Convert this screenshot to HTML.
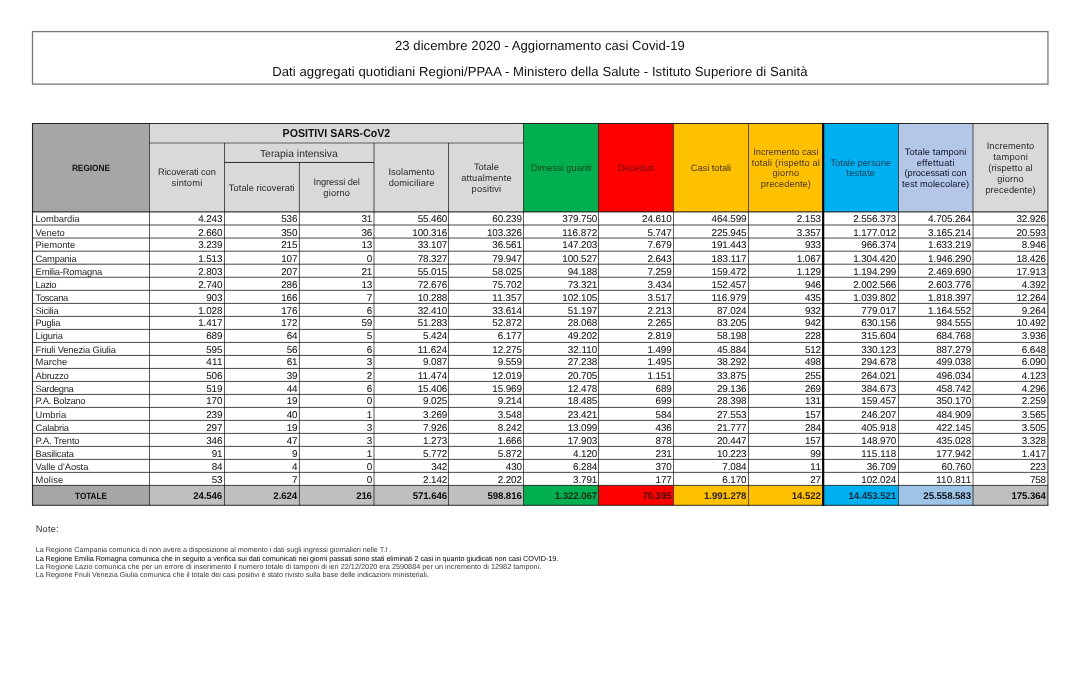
<!DOCTYPE html>
<html lang="it">
<head>
<meta charset="utf-8">
<title>Aggiornamento casi Covid-19 - 23 dicembre 2020</title>
<style>
html,body{margin:0;padding:0;background:#fff;}
body{width:1091px;height:673px;position:relative;overflow:hidden;font-family:"Liberation Sans",sans-serif;}
svg{position:absolute;left:0;top:0;}
.t{position:absolute;white-space:nowrap;text-rendering:geometricPrecision;line-height:16px;}
</style>
</head>
<body>
<svg width="1091" height="673" viewBox="0 0 1091 673">
<rect x="32.5" y="31.6" width="1015.45" height="52.5" fill="#fff" stroke="#777" stroke-width="1.3"/>
<rect x="32.5" y="123.5" width="117" height="88.35" fill="#a6a6a6"/>
<rect x="149.5" y="123.5" width="374" height="88.35" fill="#d9d9d9"/>
<rect x="523.5" y="123.5" width="75" height="88.35" fill="#00b050"/>
<rect x="598.5" y="123.5" width="75" height="88.35" fill="#ff0000"/>
<rect x="673.5" y="123.5" width="75" height="88.35" fill="#ffc000"/>
<rect x="748.5" y="123.5" width="74.67" height="88.35" fill="#ffc000"/>
<rect x="823.17" y="123.5" width="75.33" height="88.35" fill="#00b0f0"/>
<rect x="898.5" y="123.5" width="74.5" height="88.35" fill="#b4c7e7"/>
<rect x="973" y="123.5" width="74.9" height="88.35" fill="#d9d9d9"/>
<rect x="32.5" y="485.4" width="117" height="19.9" fill="#a6a6a6"/>
<rect x="149.5" y="485.4" width="75" height="19.9" fill="#bfbfbf"/>
<rect x="224.5" y="485.4" width="74.9" height="19.9" fill="#bfbfbf"/>
<rect x="299.4" y="485.4" width="74.6" height="19.9" fill="#bfbfbf"/>
<rect x="374" y="485.4" width="74.5" height="19.9" fill="#bfbfbf"/>
<rect x="448.5" y="485.4" width="75" height="19.9" fill="#bfbfbf"/>
<rect x="523.5" y="485.4" width="75" height="19.9" fill="#00b050"/>
<rect x="598.5" y="485.4" width="75" height="19.9" fill="#ff0000"/>
<rect x="673.5" y="485.4" width="75" height="19.9" fill="#ffc000"/>
<rect x="748.5" y="485.4" width="74.67" height="19.9" fill="#ffc000"/>
<rect x="823.17" y="485.4" width="75.33" height="19.9" fill="#00b0f0"/>
<rect x="898.5" y="485.4" width="74.5" height="19.9" fill="#9dc3e6"/>
<rect x="973" y="485.4" width="74.9" height="19.9" fill="#bfbfbf"/>
<line x1="32" y1="123.5" x2="1048.4" y2="123.5" stroke="#000" stroke-opacity="0.82" stroke-width="1"/>
<line x1="149.5" y1="143" x2="523.5" y2="143" stroke="#000" stroke-opacity="0.38" stroke-width="1.4"/>
<line x1="224.5" y1="162.45" x2="374" y2="162.45" stroke="#000" stroke-opacity="0.82" stroke-width="1"/>
<line x1="32.5" y1="225" x2="1047.9" y2="225" stroke="#000" stroke-opacity="0.72" stroke-width="1"/>
<line x1="32.5" y1="238.06" x2="1047.9" y2="238.06" stroke="#000" stroke-opacity="0.72" stroke-width="1"/>
<line x1="32.5" y1="251.2" x2="1047.9" y2="251.2" stroke="#000" stroke-opacity="0.72" stroke-width="1"/>
<line x1="32.5" y1="264.2" x2="1047.9" y2="264.2" stroke="#000" stroke-opacity="0.72" stroke-width="1"/>
<line x1="32.5" y1="277.25" x2="1047.9" y2="277.25" stroke="#000" stroke-opacity="0.72" stroke-width="1"/>
<line x1="32.5" y1="290.3" x2="1047.9" y2="290.3" stroke="#000" stroke-opacity="0.72" stroke-width="1"/>
<line x1="32.5" y1="303.4" x2="1047.9" y2="303.4" stroke="#000" stroke-opacity="0.72" stroke-width="1"/>
<line x1="32.5" y1="316.4" x2="1047.9" y2="316.4" stroke="#000" stroke-opacity="0.72" stroke-width="1"/>
<line x1="32.5" y1="329.4" x2="1047.9" y2="329.4" stroke="#000" stroke-opacity="0.72" stroke-width="1"/>
<line x1="32.5" y1="342.42" x2="1047.9" y2="342.42" stroke="#000" stroke-opacity="0.72" stroke-width="1"/>
<line x1="32.5" y1="355.42" x2="1047.9" y2="355.42" stroke="#000" stroke-opacity="0.72" stroke-width="1"/>
<line x1="32.5" y1="368.42" x2="1047.9" y2="368.42" stroke="#000" stroke-opacity="0.72" stroke-width="1"/>
<line x1="32.5" y1="381.41" x2="1047.9" y2="381.41" stroke="#000" stroke-opacity="0.72" stroke-width="1"/>
<line x1="32.5" y1="394.41" x2="1047.9" y2="394.41" stroke="#000" stroke-opacity="0.72" stroke-width="1"/>
<line x1="32.5" y1="407.41" x2="1047.9" y2="407.41" stroke="#000" stroke-opacity="0.72" stroke-width="1"/>
<line x1="32.5" y1="420.4" x2="1047.9" y2="420.4" stroke="#000" stroke-opacity="0.72" stroke-width="1"/>
<line x1="32.5" y1="433.4" x2="1047.9" y2="433.4" stroke="#000" stroke-opacity="0.72" stroke-width="1"/>
<line x1="32.5" y1="446.4" x2="1047.9" y2="446.4" stroke="#000" stroke-opacity="0.72" stroke-width="1"/>
<line x1="32.5" y1="459.38" x2="1047.9" y2="459.38" stroke="#000" stroke-opacity="0.72" stroke-width="1"/>
<line x1="32.5" y1="472.36" x2="1047.9" y2="472.36" stroke="#000" stroke-opacity="0.72" stroke-width="1"/>
<line x1="32.5" y1="485.4" x2="1047.9" y2="485.4" stroke="#000" stroke-opacity="0.72" stroke-width="1"/>
<line x1="32.5" y1="211.85" x2="1047.9" y2="211.85" stroke="#000" stroke-opacity="0.75" stroke-width="1.2"/>
<line x1="32" y1="505.3" x2="1048.4" y2="505.3" stroke="#000" stroke-opacity="0.82" stroke-width="1"/>
<line x1="32.5" y1="123.5" x2="32.5" y2="505.3" stroke="#000" stroke-opacity="0.82" stroke-width="1.1"/>
<line x1="149.5" y1="123.5" x2="149.5" y2="505.3" stroke="#000" stroke-opacity="0.64" stroke-width="1"/>
<line x1="224.5" y1="143" x2="224.5" y2="505.3" stroke="#000" stroke-opacity="0.64" stroke-width="1"/>
<line x1="299.4" y1="162.45" x2="299.4" y2="505.3" stroke="#000" stroke-opacity="0.64" stroke-width="1"/>
<line x1="374" y1="143" x2="374" y2="505.3" stroke="#000" stroke-opacity="0.64" stroke-width="1"/>
<line x1="448.5" y1="143" x2="448.5" y2="505.3" stroke="#000" stroke-opacity="0.64" stroke-width="1"/>
<line x1="523.5" y1="123.5" x2="523.5" y2="505.3" stroke="#000" stroke-opacity="0.64" stroke-width="1"/>
<line x1="598.5" y1="123.5" x2="598.5" y2="505.3" stroke="#000" stroke-opacity="0.64" stroke-width="1"/>
<line x1="673.5" y1="123.5" x2="673.5" y2="505.3" stroke="#000" stroke-opacity="0.64" stroke-width="1"/>
<line x1="748.5" y1="123.5" x2="748.5" y2="505.3" stroke="#000" stroke-opacity="0.64" stroke-width="1"/>
<line x1="898.5" y1="123.5" x2="898.5" y2="505.3" stroke="#000" stroke-opacity="0.64" stroke-width="1"/>
<line x1="973" y1="123.5" x2="973" y2="505.3" stroke="#000" stroke-opacity="0.64" stroke-width="1"/>
<line x1="1047.9" y1="123.5" x2="1047.9" y2="505.3" stroke="#000" stroke-opacity="0.6" stroke-width="1.4"/>
<line x1="823.17" y1="123" x2="823.17" y2="505.8" stroke="#000" stroke-opacity="1" stroke-width="2.2"/>
</svg>
<div class="t" style="left:394.96px;top:38px;font-size:13.1px;letter-spacing:0.054px;color:#111;">23 dicembre 2020 - Aggiornamento casi Covid-19</div>
<div class="t" style="left:272.15px;top:64px;font-size:13.1px;letter-spacing:0.078px;color:#111;">Dati aggregati quotidiani Regioni/PPAA - Ministero della Salute - Istituto Superiore di Sanità</div>
<div class="t" style="left:71.90px;top:161px;font-size:8.28px;letter-spacing:0.002px;color:#111;font-weight:bold;transform:scaleY(1.079);transform-origin:0 10px;">REGIONE</div>
<div class="t" style="left:282.60px;top:126px;font-size:10.58px;letter-spacing:0.001px;color:#111;font-weight:bold;transform:scaleY(1.089);transform-origin:0 11px;">POSITIVI SARS-CoV2</div>
<div class="t" style="left:259.95px;top:147px;font-size:10.34px;letter-spacing:0.019px;color:#2a2a2a;">Terapia intensiva</div>
<div class="t" style="left:158.02px;top:164px;font-size:9.29px;letter-spacing:-0.079px;color:#2a2a2a;">Ricoverati con</div>
<div class="t" style="left:171.62px;top:175px;font-size:9.29px;letter-spacing:0.200px;color:#2a2a2a;">sintomi</div>
<div class="t" style="left:228.86px;top:180px;font-size:9.29px;letter-spacing:0.051px;color:#2a2a2a;">Totale ricoverati</div>
<div class="t" style="left:313.47px;top:174px;font-size:9.29px;letter-spacing:-0.101px;color:#2a2a2a;">Ingressi del</div>
<div class="t" style="left:323.33px;top:185px;font-size:9.29px;letter-spacing:0.172px;color:#2a2a2a;">giorno</div>
<div class="t" style="left:388.47px;top:164px;font-size:9.29px;letter-spacing:0.075px;color:#2a2a2a;">Isolamento</div>
<div class="t" style="left:388.67px;top:175px;font-size:9.29px;letter-spacing:0.132px;color:#2a2a2a;">domiciliare</div>
<div class="t" style="left:473.94px;top:159px;font-size:9.29px;letter-spacing:0.025px;color:#2a2a2a;">Totale</div>
<div class="t" style="left:461.17px;top:170px;font-size:9.29px;letter-spacing:0.192px;color:#2a2a2a;">attualmente</div>
<div class="t" style="left:471.62px;top:181px;font-size:9.29px;letter-spacing:0.165px;color:#2a2a2a;">positivi</div>
<div class="t" style="left:530.87px;top:160px;font-size:9.29px;letter-spacing:-0.009px;color:#063f1c;">Dimessi guariti</div>
<div class="t" style="left:617.66px;top:160px;font-size:9.29px;letter-spacing:0.042px;color:#700000;">Deceduti</div>
<div class="t" style="left:690.84px;top:160px;font-size:9.29px;letter-spacing:-0.047px;color:#463500;">Casi totali</div>
<div class="t" style="left:753.19px;top:144px;font-size:9.29px;letter-spacing:-0.016px;color:#463500;">Incremento casi</div>
<div class="t" style="left:751.79px;top:155px;font-size:9.29px;letter-spacing:0.144px;color:#463500;">totali (rispetto al</div>
<div class="t" style="left:772.53px;top:165px;font-size:9.29px;letter-spacing:0.172px;color:#463500;">giorno</div>
<div class="t" style="left:760.78px;top:176px;font-size:9.29px;letter-spacing:0.059px;color:#463500;">precedente)</div>
<div class="t" style="left:830.40px;top:155px;font-size:9.29px;letter-spacing:-0.022px;color:#053d57;">Totale persone</div>
<div class="t" style="left:846.45px;top:165px;font-size:9.29px;letter-spacing:0.116px;color:#053d57;">testate</div>
<div class="t" style="left:904.70px;top:144px;font-size:9.29px;letter-spacing:0.106px;color:#10142a;">Totale tamponi</div>
<div class="t" style="left:916.69px;top:155px;font-size:9.29px;letter-spacing:0.261px;color:#10142a;">effettuati</div>
<div class="t" style="left:904.59px;top:165px;font-size:9.29px;letter-spacing:-0.069px;color:#10142a;">(processati con</div>
<div class="t" style="left:902.09px;top:176px;font-size:9.29px;letter-spacing:0.062px;color:#10142a;">test molecolare)</div>
<div class="t" style="left:986.63px;top:138px;font-size:9.29px;letter-spacing:0.135px;color:#2a2a2a;">Incremento</div>
<div class="t" style="left:993.17px;top:149px;font-size:9.29px;letter-spacing:0.257px;color:#2a2a2a;">tamponi</div>
<div class="t" style="left:988.26px;top:160px;font-size:9.29px;letter-spacing:0.096px;color:#2a2a2a;">(rispetto al</div>
<div class="t" style="left:997.13px;top:171px;font-size:9.29px;letter-spacing:0.172px;color:#2a2a2a;">giorno</div>
<div class="t" style="left:985.38px;top:182px;font-size:9.29px;letter-spacing:0.059px;color:#2a2a2a;">precedente)</div>
<div class="t" style="left:35.60px;top:211px;font-size:9.39px;letter-spacing:-0.065px;color:#262626;">Lombardia</div>
<div class="t" style="left:198.19px;top:212px;font-size:9.9px;letter-spacing:-0.124px;color:#151515;-webkit-text-stroke:0.05px #151515;">4.243</div>
<div class="t" style="left:281.24px;top:212px;font-size:9.9px;letter-spacing:-0.162px;color:#151515;-webkit-text-stroke:0.05px #151515;">536</div>
<div class="t" style="left:361.41px;top:212px;font-size:9.9px;letter-spacing:-0.217px;color:#151515;-webkit-text-stroke:0.05px #151515;">31</div>
<div class="t" style="left:417.69px;top:212px;font-size:9.9px;letter-spacing:-0.121px;color:#151515;-webkit-text-stroke:0.05px #151515;">55.460</div>
<div class="t" style="left:492.36px;top:212px;font-size:9.9px;letter-spacing:-0.121px;color:#151515;-webkit-text-stroke:0.05px #151515;">60.239</div>
<div class="t" style="left:562.33px;top:212px;font-size:9.9px;letter-spacing:-0.119px;color:#151515;-webkit-text-stroke:0.05px #151515;">379.750</div>
<div class="t" style="left:642.09px;top:212px;font-size:9.9px;letter-spacing:-0.121px;color:#151515;-webkit-text-stroke:0.05px #151515;">24.610</div>
<div class="t" style="left:711.56px;top:212px;font-size:9.9px;letter-spacing:-0.119px;color:#151515;-webkit-text-stroke:0.05px #151515;">464.599</div>
<div class="t" style="left:796.82px;top:212px;font-size:9.9px;letter-spacing:-0.124px;color:#151515;-webkit-text-stroke:0.05px #151515;">2.153</div>
<div class="t" style="left:853.21px;top:212px;font-size:9.9px;letter-spacing:-0.110px;color:#151515;-webkit-text-stroke:0.05px #151515;">2.556.373</div>
<div class="t" style="left:928.12px;top:212px;font-size:9.9px;letter-spacing:-0.110px;color:#151515;-webkit-text-stroke:0.05px #151515;">4.705.264</div>
<div class="t" style="left:1016.43px;top:212px;font-size:9.9px;letter-spacing:-0.121px;color:#151515;-webkit-text-stroke:0.05px #151515;">32.926</div>
<div class="t" style="left:35.60px;top:225px;font-size:9.39px;letter-spacing:0.008px;color:#262626;">Veneto</div>
<div class="t" style="left:198.19px;top:226px;font-size:9.9px;letter-spacing:-0.124px;color:#151515;-webkit-text-stroke:0.05px #151515;">2.660</div>
<div class="t" style="left:281.24px;top:226px;font-size:9.9px;letter-spacing:-0.162px;color:#151515;-webkit-text-stroke:0.05px #151515;">350</div>
<div class="t" style="left:361.41px;top:226px;font-size:9.9px;letter-spacing:-0.217px;color:#151515;-webkit-text-stroke:0.05px #151515;">36</div>
<div class="t" style="left:412.29px;top:226px;font-size:9.9px;letter-spacing:-0.119px;color:#151515;-webkit-text-stroke:0.05px #151515;">100.316</div>
<div class="t" style="left:486.96px;top:226px;font-size:9.9px;letter-spacing:-0.119px;color:#151515;-webkit-text-stroke:0.05px #151515;">103.326</div>
<div class="t" style="left:562.33px;top:226px;font-size:9.9px;letter-spacing:0.004px;color:#151515;-webkit-text-stroke:0.05px #151515;">116.872</div>
<div class="t" style="left:647.49px;top:226px;font-size:9.9px;letter-spacing:-0.124px;color:#151515;-webkit-text-stroke:0.05px #151515;">5.747</div>
<div class="t" style="left:711.56px;top:226px;font-size:9.9px;letter-spacing:-0.119px;color:#151515;-webkit-text-stroke:0.05px #151515;">225.945</div>
<div class="t" style="left:796.82px;top:226px;font-size:9.9px;letter-spacing:-0.124px;color:#151515;-webkit-text-stroke:0.05px #151515;">3.357</div>
<div class="t" style="left:853.21px;top:226px;font-size:9.9px;letter-spacing:-0.110px;color:#151515;-webkit-text-stroke:0.05px #151515;">1.177.012</div>
<div class="t" style="left:928.12px;top:226px;font-size:9.9px;letter-spacing:-0.110px;color:#151515;-webkit-text-stroke:0.05px #151515;">3.165.214</div>
<div class="t" style="left:1016.43px;top:226px;font-size:9.9px;letter-spacing:-0.121px;color:#151515;-webkit-text-stroke:0.05px #151515;">20.593</div>
<div class="t" style="left:35.60px;top:237px;font-size:9.39px;letter-spacing:-0.001px;color:#262626;">Piemonte</div>
<div class="t" style="left:198.19px;top:238px;font-size:9.9px;letter-spacing:-0.124px;color:#151515;-webkit-text-stroke:0.05px #151515;">3.239</div>
<div class="t" style="left:281.24px;top:238px;font-size:9.9px;letter-spacing:-0.162px;color:#151515;-webkit-text-stroke:0.05px #151515;">215</div>
<div class="t" style="left:361.41px;top:238px;font-size:9.9px;letter-spacing:-0.217px;color:#151515;-webkit-text-stroke:0.05px #151515;">13</div>
<div class="t" style="left:417.69px;top:238px;font-size:9.9px;letter-spacing:-0.121px;color:#151515;-webkit-text-stroke:0.05px #151515;">33.107</div>
<div class="t" style="left:492.36px;top:238px;font-size:9.9px;letter-spacing:-0.121px;color:#151515;-webkit-text-stroke:0.05px #151515;">36.561</div>
<div class="t" style="left:562.33px;top:238px;font-size:9.9px;letter-spacing:-0.119px;color:#151515;-webkit-text-stroke:0.05px #151515;">147.203</div>
<div class="t" style="left:647.49px;top:238px;font-size:9.9px;letter-spacing:-0.124px;color:#151515;-webkit-text-stroke:0.05px #151515;">7.679</div>
<div class="t" style="left:711.56px;top:238px;font-size:9.9px;letter-spacing:-0.119px;color:#151515;-webkit-text-stroke:0.05px #151515;">191.443</div>
<div class="t" style="left:804.91px;top:238px;font-size:9.9px;letter-spacing:-0.162px;color:#151515;-webkit-text-stroke:0.05px #151515;">933</div>
<div class="t" style="left:861.29px;top:238px;font-size:9.9px;letter-spacing:-0.119px;color:#151515;-webkit-text-stroke:0.05px #151515;">966.374</div>
<div class="t" style="left:928.12px;top:238px;font-size:9.9px;letter-spacing:-0.110px;color:#151515;-webkit-text-stroke:0.05px #151515;">1.633.219</div>
<div class="t" style="left:1021.82px;top:238px;font-size:9.9px;letter-spacing:-0.124px;color:#151515;-webkit-text-stroke:0.05px #151515;">8.946</div>
<div class="t" style="left:35.60px;top:251px;font-size:9.39px;letter-spacing:-0.243px;color:#262626;">Campania</div>
<div class="t" style="left:198.19px;top:252px;font-size:9.9px;letter-spacing:-0.124px;color:#151515;-webkit-text-stroke:0.05px #151515;">1.513</div>
<div class="t" style="left:281.24px;top:252px;font-size:9.9px;letter-spacing:-0.162px;color:#151515;-webkit-text-stroke:0.05px #151515;">107</div>
<div class="t" style="left:366.80px;top:252px;font-size:9.9px;letter-spacing:0.000px;color:#151515;-webkit-text-stroke:0.05px #151515;">0</div>
<div class="t" style="left:417.69px;top:252px;font-size:9.9px;letter-spacing:-0.121px;color:#151515;-webkit-text-stroke:0.05px #151515;">78.327</div>
<div class="t" style="left:492.36px;top:252px;font-size:9.9px;letter-spacing:-0.121px;color:#151515;-webkit-text-stroke:0.05px #151515;">79.947</div>
<div class="t" style="left:562.33px;top:252px;font-size:9.9px;letter-spacing:-0.119px;color:#151515;-webkit-text-stroke:0.05px #151515;">100.527</div>
<div class="t" style="left:647.49px;top:252px;font-size:9.9px;letter-spacing:-0.124px;color:#151515;-webkit-text-stroke:0.05px #151515;">2.643</div>
<div class="t" style="left:711.56px;top:252px;font-size:9.9px;letter-spacing:0.004px;color:#151515;-webkit-text-stroke:0.05px #151515;">183.117</div>
<div class="t" style="left:796.82px;top:252px;font-size:9.9px;letter-spacing:-0.124px;color:#151515;-webkit-text-stroke:0.05px #151515;">1.067</div>
<div class="t" style="left:853.21px;top:252px;font-size:9.9px;letter-spacing:-0.110px;color:#151515;-webkit-text-stroke:0.05px #151515;">1.304.420</div>
<div class="t" style="left:928.12px;top:252px;font-size:9.9px;letter-spacing:-0.110px;color:#151515;-webkit-text-stroke:0.05px #151515;">1.946.290</div>
<div class="t" style="left:1016.43px;top:252px;font-size:9.9px;letter-spacing:-0.121px;color:#151515;-webkit-text-stroke:0.05px #151515;">18.426</div>
<div class="t" style="left:35.60px;top:264px;font-size:9.39px;letter-spacing:-0.215px;color:#262626;">Emilia-Romagna</div>
<div class="t" style="left:198.19px;top:265px;font-size:9.9px;letter-spacing:-0.124px;color:#151515;-webkit-text-stroke:0.05px #151515;">2.803</div>
<div class="t" style="left:281.24px;top:265px;font-size:9.9px;letter-spacing:-0.162px;color:#151515;-webkit-text-stroke:0.05px #151515;">207</div>
<div class="t" style="left:361.41px;top:265px;font-size:9.9px;letter-spacing:-0.217px;color:#151515;-webkit-text-stroke:0.05px #151515;">21</div>
<div class="t" style="left:417.69px;top:265px;font-size:9.9px;letter-spacing:-0.121px;color:#151515;-webkit-text-stroke:0.05px #151515;">55.015</div>
<div class="t" style="left:492.36px;top:265px;font-size:9.9px;letter-spacing:-0.121px;color:#151515;-webkit-text-stroke:0.05px #151515;">58.025</div>
<div class="t" style="left:567.72px;top:265px;font-size:9.9px;letter-spacing:-0.121px;color:#151515;-webkit-text-stroke:0.05px #151515;">94.188</div>
<div class="t" style="left:647.49px;top:265px;font-size:9.9px;letter-spacing:-0.124px;color:#151515;-webkit-text-stroke:0.05px #151515;">7.259</div>
<div class="t" style="left:711.56px;top:265px;font-size:9.9px;letter-spacing:-0.119px;color:#151515;-webkit-text-stroke:0.05px #151515;">159.472</div>
<div class="t" style="left:796.82px;top:265px;font-size:9.9px;letter-spacing:-0.124px;color:#151515;-webkit-text-stroke:0.05px #151515;">1.129</div>
<div class="t" style="left:853.21px;top:265px;font-size:9.9px;letter-spacing:-0.110px;color:#151515;-webkit-text-stroke:0.05px #151515;">1.194.299</div>
<div class="t" style="left:928.12px;top:265px;font-size:9.9px;letter-spacing:-0.110px;color:#151515;-webkit-text-stroke:0.05px #151515;">2.469.690</div>
<div class="t" style="left:1016.43px;top:265px;font-size:9.9px;letter-spacing:-0.121px;color:#151515;-webkit-text-stroke:0.05px #151515;">17.913</div>
<div class="t" style="left:35.60px;top:277px;font-size:9.39px;letter-spacing:-0.407px;color:#262626;">Lazio</div>
<div class="t" style="left:198.19px;top:278px;font-size:9.9px;letter-spacing:-0.124px;color:#151515;-webkit-text-stroke:0.05px #151515;">2.740</div>
<div class="t" style="left:281.24px;top:278px;font-size:9.9px;letter-spacing:-0.162px;color:#151515;-webkit-text-stroke:0.05px #151515;">286</div>
<div class="t" style="left:361.41px;top:278px;font-size:9.9px;letter-spacing:-0.217px;color:#151515;-webkit-text-stroke:0.05px #151515;">13</div>
<div class="t" style="left:417.69px;top:278px;font-size:9.9px;letter-spacing:-0.121px;color:#151515;-webkit-text-stroke:0.05px #151515;">72.676</div>
<div class="t" style="left:492.36px;top:278px;font-size:9.9px;letter-spacing:-0.121px;color:#151515;-webkit-text-stroke:0.05px #151515;">75.702</div>
<div class="t" style="left:567.72px;top:278px;font-size:9.9px;letter-spacing:-0.121px;color:#151515;-webkit-text-stroke:0.05px #151515;">73.321</div>
<div class="t" style="left:647.49px;top:278px;font-size:9.9px;letter-spacing:-0.124px;color:#151515;-webkit-text-stroke:0.05px #151515;">3.434</div>
<div class="t" style="left:711.56px;top:278px;font-size:9.9px;letter-spacing:-0.119px;color:#151515;-webkit-text-stroke:0.05px #151515;">152.457</div>
<div class="t" style="left:804.91px;top:278px;font-size:9.9px;letter-spacing:-0.162px;color:#151515;-webkit-text-stroke:0.05px #151515;">946</div>
<div class="t" style="left:853.21px;top:278px;font-size:9.9px;letter-spacing:-0.110px;color:#151515;-webkit-text-stroke:0.05px #151515;">2.002.566</div>
<div class="t" style="left:928.12px;top:278px;font-size:9.9px;letter-spacing:-0.110px;color:#151515;-webkit-text-stroke:0.05px #151515;">2.603.776</div>
<div class="t" style="left:1021.82px;top:278px;font-size:9.9px;letter-spacing:-0.124px;color:#151515;-webkit-text-stroke:0.05px #151515;">4.392</div>
<div class="t" style="left:35.60px;top:290px;font-size:9.39px;letter-spacing:-0.391px;color:#262626;">Toscana</div>
<div class="t" style="left:206.27px;top:291px;font-size:9.9px;letter-spacing:-0.162px;color:#151515;-webkit-text-stroke:0.05px #151515;">903</div>
<div class="t" style="left:281.24px;top:291px;font-size:9.9px;letter-spacing:-0.162px;color:#151515;-webkit-text-stroke:0.05px #151515;">166</div>
<div class="t" style="left:366.80px;top:291px;font-size:9.9px;letter-spacing:0.000px;color:#151515;-webkit-text-stroke:0.05px #151515;">7</div>
<div class="t" style="left:417.69px;top:291px;font-size:9.9px;letter-spacing:-0.121px;color:#151515;-webkit-text-stroke:0.05px #151515;">10.288</div>
<div class="t" style="left:492.36px;top:291px;font-size:9.9px;letter-spacing:0.026px;color:#151515;-webkit-text-stroke:0.05px #151515;">11.357</div>
<div class="t" style="left:562.33px;top:291px;font-size:9.9px;letter-spacing:-0.119px;color:#151515;-webkit-text-stroke:0.05px #151515;">102.105</div>
<div class="t" style="left:647.49px;top:291px;font-size:9.9px;letter-spacing:-0.124px;color:#151515;-webkit-text-stroke:0.05px #151515;">3.517</div>
<div class="t" style="left:711.56px;top:291px;font-size:9.9px;letter-spacing:0.004px;color:#151515;-webkit-text-stroke:0.05px #151515;">116.979</div>
<div class="t" style="left:804.91px;top:291px;font-size:9.9px;letter-spacing:-0.162px;color:#151515;-webkit-text-stroke:0.05px #151515;">435</div>
<div class="t" style="left:853.21px;top:291px;font-size:9.9px;letter-spacing:-0.110px;color:#151515;-webkit-text-stroke:0.05px #151515;">1.039.802</div>
<div class="t" style="left:928.12px;top:291px;font-size:9.9px;letter-spacing:-0.110px;color:#151515;-webkit-text-stroke:0.05px #151515;">1.818.397</div>
<div class="t" style="left:1016.43px;top:291px;font-size:9.9px;letter-spacing:-0.121px;color:#151515;-webkit-text-stroke:0.05px #151515;">12.264</div>
<div class="t" style="left:35.60px;top:303px;font-size:9.39px;letter-spacing:-0.232px;color:#262626;">Sicilia</div>
<div class="t" style="left:198.19px;top:304px;font-size:9.9px;letter-spacing:-0.124px;color:#151515;-webkit-text-stroke:0.05px #151515;">1.028</div>
<div class="t" style="left:281.24px;top:304px;font-size:9.9px;letter-spacing:-0.162px;color:#151515;-webkit-text-stroke:0.05px #151515;">176</div>
<div class="t" style="left:366.80px;top:304px;font-size:9.9px;letter-spacing:0.000px;color:#151515;-webkit-text-stroke:0.05px #151515;">6</div>
<div class="t" style="left:417.69px;top:304px;font-size:9.9px;letter-spacing:-0.121px;color:#151515;-webkit-text-stroke:0.05px #151515;">32.410</div>
<div class="t" style="left:492.36px;top:304px;font-size:9.9px;letter-spacing:-0.121px;color:#151515;-webkit-text-stroke:0.05px #151515;">33.614</div>
<div class="t" style="left:567.72px;top:304px;font-size:9.9px;letter-spacing:-0.121px;color:#151515;-webkit-text-stroke:0.05px #151515;">51.197</div>
<div class="t" style="left:647.49px;top:304px;font-size:9.9px;letter-spacing:-0.124px;color:#151515;-webkit-text-stroke:0.05px #151515;">2.213</div>
<div class="t" style="left:716.96px;top:304px;font-size:9.9px;letter-spacing:-0.121px;color:#151515;-webkit-text-stroke:0.05px #151515;">87.024</div>
<div class="t" style="left:804.91px;top:304px;font-size:9.9px;letter-spacing:-0.162px;color:#151515;-webkit-text-stroke:0.05px #151515;">932</div>
<div class="t" style="left:861.29px;top:304px;font-size:9.9px;letter-spacing:-0.119px;color:#151515;-webkit-text-stroke:0.05px #151515;">779.017</div>
<div class="t" style="left:928.12px;top:304px;font-size:9.9px;letter-spacing:-0.110px;color:#151515;-webkit-text-stroke:0.05px #151515;">1.164.552</div>
<div class="t" style="left:1021.82px;top:304px;font-size:9.9px;letter-spacing:-0.124px;color:#151515;-webkit-text-stroke:0.05px #151515;">9.264</div>
<div class="t" style="left:35.60px;top:315px;font-size:9.39px;letter-spacing:-0.246px;color:#262626;">Puglia</div>
<div class="t" style="left:198.19px;top:316px;font-size:9.9px;letter-spacing:-0.124px;color:#151515;-webkit-text-stroke:0.05px #151515;">1.417</div>
<div class="t" style="left:281.24px;top:316px;font-size:9.9px;letter-spacing:-0.162px;color:#151515;-webkit-text-stroke:0.05px #151515;">172</div>
<div class="t" style="left:361.41px;top:316px;font-size:9.9px;letter-spacing:-0.217px;color:#151515;-webkit-text-stroke:0.05px #151515;">59</div>
<div class="t" style="left:417.69px;top:316px;font-size:9.9px;letter-spacing:-0.121px;color:#151515;-webkit-text-stroke:0.05px #151515;">51.283</div>
<div class="t" style="left:492.36px;top:316px;font-size:9.9px;letter-spacing:-0.121px;color:#151515;-webkit-text-stroke:0.05px #151515;">52.872</div>
<div class="t" style="left:567.72px;top:316px;font-size:9.9px;letter-spacing:-0.121px;color:#151515;-webkit-text-stroke:0.05px #151515;">28.068</div>
<div class="t" style="left:647.49px;top:316px;font-size:9.9px;letter-spacing:-0.124px;color:#151515;-webkit-text-stroke:0.05px #151515;">2.265</div>
<div class="t" style="left:716.96px;top:316px;font-size:9.9px;letter-spacing:-0.121px;color:#151515;-webkit-text-stroke:0.05px #151515;">83.205</div>
<div class="t" style="left:804.91px;top:316px;font-size:9.9px;letter-spacing:-0.162px;color:#151515;-webkit-text-stroke:0.05px #151515;">942</div>
<div class="t" style="left:861.29px;top:316px;font-size:9.9px;letter-spacing:-0.119px;color:#151515;-webkit-text-stroke:0.05px #151515;">630.156</div>
<div class="t" style="left:936.21px;top:316px;font-size:9.9px;letter-spacing:-0.119px;color:#151515;-webkit-text-stroke:0.05px #151515;">984.555</div>
<div class="t" style="left:1016.43px;top:316px;font-size:9.9px;letter-spacing:-0.121px;color:#151515;-webkit-text-stroke:0.05px #151515;">10.492</div>
<div class="t" style="left:35.60px;top:328px;font-size:9.39px;letter-spacing:-0.125px;color:#262626;">Liguria</div>
<div class="t" style="left:206.27px;top:329px;font-size:9.9px;letter-spacing:-0.162px;color:#151515;-webkit-text-stroke:0.05px #151515;">689</div>
<div class="t" style="left:286.64px;top:329px;font-size:9.9px;letter-spacing:-0.217px;color:#151515;-webkit-text-stroke:0.05px #151515;">64</div>
<div class="t" style="left:366.80px;top:329px;font-size:9.9px;letter-spacing:0.000px;color:#151515;-webkit-text-stroke:0.05px #151515;">5</div>
<div class="t" style="left:423.09px;top:329px;font-size:9.9px;letter-spacing:-0.124px;color:#151515;-webkit-text-stroke:0.05px #151515;">5.424</div>
<div class="t" style="left:497.76px;top:329px;font-size:9.9px;letter-spacing:-0.124px;color:#151515;-webkit-text-stroke:0.05px #151515;">6.177</div>
<div class="t" style="left:567.72px;top:329px;font-size:9.9px;letter-spacing:-0.121px;color:#151515;-webkit-text-stroke:0.05px #151515;">49.202</div>
<div class="t" style="left:647.49px;top:329px;font-size:9.9px;letter-spacing:-0.124px;color:#151515;-webkit-text-stroke:0.05px #151515;">2.819</div>
<div class="t" style="left:716.96px;top:329px;font-size:9.9px;letter-spacing:-0.121px;color:#151515;-webkit-text-stroke:0.05px #151515;">58.198</div>
<div class="t" style="left:804.91px;top:329px;font-size:9.9px;letter-spacing:-0.162px;color:#151515;-webkit-text-stroke:0.05px #151515;">228</div>
<div class="t" style="left:861.29px;top:329px;font-size:9.9px;letter-spacing:-0.119px;color:#151515;-webkit-text-stroke:0.05px #151515;">315.604</div>
<div class="t" style="left:936.21px;top:329px;font-size:9.9px;letter-spacing:-0.119px;color:#151515;-webkit-text-stroke:0.05px #151515;">684.768</div>
<div class="t" style="left:1021.82px;top:329px;font-size:9.9px;letter-spacing:-0.124px;color:#151515;-webkit-text-stroke:0.05px #151515;">3.936</div>
<div class="t" style="left:35.60px;top:342px;font-size:9.39px;letter-spacing:-0.125px;color:#262626;">Friuli Venezia Giulia</div>
<div class="t" style="left:206.27px;top:343px;font-size:9.9px;letter-spacing:-0.162px;color:#151515;-webkit-text-stroke:0.05px #151515;">595</div>
<div class="t" style="left:286.64px;top:343px;font-size:9.9px;letter-spacing:-0.217px;color:#151515;-webkit-text-stroke:0.05px #151515;">56</div>
<div class="t" style="left:366.80px;top:343px;font-size:9.9px;letter-spacing:0.000px;color:#151515;-webkit-text-stroke:0.05px #151515;">6</div>
<div class="t" style="left:417.69px;top:343px;font-size:9.9px;letter-spacing:0.026px;color:#151515;-webkit-text-stroke:0.05px #151515;">11.624</div>
<div class="t" style="left:492.36px;top:343px;font-size:9.9px;letter-spacing:-0.121px;color:#151515;-webkit-text-stroke:0.05px #151515;">12.275</div>
<div class="t" style="left:567.72px;top:343px;font-size:9.9px;letter-spacing:0.026px;color:#151515;-webkit-text-stroke:0.05px #151515;">32.110</div>
<div class="t" style="left:647.49px;top:343px;font-size:9.9px;letter-spacing:-0.124px;color:#151515;-webkit-text-stroke:0.05px #151515;">1.499</div>
<div class="t" style="left:716.96px;top:343px;font-size:9.9px;letter-spacing:-0.121px;color:#151515;-webkit-text-stroke:0.05px #151515;">45.884</div>
<div class="t" style="left:804.91px;top:343px;font-size:9.9px;letter-spacing:-0.162px;color:#151515;-webkit-text-stroke:0.05px #151515;">512</div>
<div class="t" style="left:861.29px;top:343px;font-size:9.9px;letter-spacing:-0.119px;color:#151515;-webkit-text-stroke:0.05px #151515;">330.123</div>
<div class="t" style="left:936.21px;top:343px;font-size:9.9px;letter-spacing:-0.119px;color:#151515;-webkit-text-stroke:0.05px #151515;">887.279</div>
<div class="t" style="left:1021.82px;top:343px;font-size:9.9px;letter-spacing:-0.124px;color:#151515;-webkit-text-stroke:0.05px #151515;">6.648</div>
<div class="t" style="left:35.60px;top:354px;font-size:9.39px;letter-spacing:0.059px;color:#262626;">Marche</div>
<div class="t" style="left:206.27px;top:355px;font-size:9.9px;letter-spacing:0.205px;color:#151515;-webkit-text-stroke:0.05px #151515;">411</div>
<div class="t" style="left:286.64px;top:355px;font-size:9.9px;letter-spacing:-0.217px;color:#151515;-webkit-text-stroke:0.05px #151515;">61</div>
<div class="t" style="left:366.80px;top:355px;font-size:9.9px;letter-spacing:0.000px;color:#151515;-webkit-text-stroke:0.05px #151515;">3</div>
<div class="t" style="left:423.09px;top:355px;font-size:9.9px;letter-spacing:-0.124px;color:#151515;-webkit-text-stroke:0.05px #151515;">9.087</div>
<div class="t" style="left:497.76px;top:355px;font-size:9.9px;letter-spacing:-0.124px;color:#151515;-webkit-text-stroke:0.05px #151515;">9.559</div>
<div class="t" style="left:567.72px;top:355px;font-size:9.9px;letter-spacing:-0.121px;color:#151515;-webkit-text-stroke:0.05px #151515;">27.238</div>
<div class="t" style="left:647.49px;top:355px;font-size:9.9px;letter-spacing:-0.124px;color:#151515;-webkit-text-stroke:0.05px #151515;">1.495</div>
<div class="t" style="left:716.96px;top:355px;font-size:9.9px;letter-spacing:-0.121px;color:#151515;-webkit-text-stroke:0.05px #151515;">38.292</div>
<div class="t" style="left:804.91px;top:355px;font-size:9.9px;letter-spacing:-0.162px;color:#151515;-webkit-text-stroke:0.05px #151515;">498</div>
<div class="t" style="left:861.29px;top:355px;font-size:9.9px;letter-spacing:-0.119px;color:#151515;-webkit-text-stroke:0.05px #151515;">294.678</div>
<div class="t" style="left:936.21px;top:355px;font-size:9.9px;letter-spacing:-0.119px;color:#151515;-webkit-text-stroke:0.05px #151515;">499.038</div>
<div class="t" style="left:1021.82px;top:355px;font-size:9.9px;letter-spacing:-0.124px;color:#151515;-webkit-text-stroke:0.05px #151515;">6.090</div>
<div class="t" style="left:35.60px;top:368px;font-size:9.39px;letter-spacing:-0.204px;color:#262626;">Abruzzo</div>
<div class="t" style="left:206.27px;top:369px;font-size:9.9px;letter-spacing:-0.162px;color:#151515;-webkit-text-stroke:0.05px #151515;">506</div>
<div class="t" style="left:286.64px;top:369px;font-size:9.9px;letter-spacing:-0.217px;color:#151515;-webkit-text-stroke:0.05px #151515;">39</div>
<div class="t" style="left:366.80px;top:369px;font-size:9.9px;letter-spacing:0.000px;color:#151515;-webkit-text-stroke:0.05px #151515;">2</div>
<div class="t" style="left:417.69px;top:369px;font-size:9.9px;letter-spacing:0.026px;color:#151515;-webkit-text-stroke:0.05px #151515;">11.474</div>
<div class="t" style="left:492.36px;top:369px;font-size:9.9px;letter-spacing:-0.121px;color:#151515;-webkit-text-stroke:0.05px #151515;">12.019</div>
<div class="t" style="left:567.72px;top:369px;font-size:9.9px;letter-spacing:-0.121px;color:#151515;-webkit-text-stroke:0.05px #151515;">20.705</div>
<div class="t" style="left:647.49px;top:369px;font-size:9.9px;letter-spacing:-0.124px;color:#151515;-webkit-text-stroke:0.05px #151515;">1.151</div>
<div class="t" style="left:716.96px;top:369px;font-size:9.9px;letter-spacing:-0.121px;color:#151515;-webkit-text-stroke:0.05px #151515;">33.875</div>
<div class="t" style="left:804.91px;top:369px;font-size:9.9px;letter-spacing:-0.162px;color:#151515;-webkit-text-stroke:0.05px #151515;">255</div>
<div class="t" style="left:861.29px;top:369px;font-size:9.9px;letter-spacing:-0.119px;color:#151515;-webkit-text-stroke:0.05px #151515;">264.021</div>
<div class="t" style="left:936.21px;top:369px;font-size:9.9px;letter-spacing:-0.119px;color:#151515;-webkit-text-stroke:0.05px #151515;">496.034</div>
<div class="t" style="left:1021.82px;top:369px;font-size:9.9px;letter-spacing:-0.124px;color:#151515;-webkit-text-stroke:0.05px #151515;">4.123</div>
<div class="t" style="left:35.60px;top:381px;font-size:9.39px;letter-spacing:-0.349px;color:#262626;">Sardegna</div>
<div class="t" style="left:206.27px;top:382px;font-size:9.9px;letter-spacing:-0.162px;color:#151515;-webkit-text-stroke:0.05px #151515;">519</div>
<div class="t" style="left:286.64px;top:382px;font-size:9.9px;letter-spacing:-0.217px;color:#151515;-webkit-text-stroke:0.05px #151515;">44</div>
<div class="t" style="left:366.80px;top:382px;font-size:9.9px;letter-spacing:0.000px;color:#151515;-webkit-text-stroke:0.05px #151515;">6</div>
<div class="t" style="left:417.69px;top:382px;font-size:9.9px;letter-spacing:-0.121px;color:#151515;-webkit-text-stroke:0.05px #151515;">15.406</div>
<div class="t" style="left:492.36px;top:382px;font-size:9.9px;letter-spacing:-0.121px;color:#151515;-webkit-text-stroke:0.05px #151515;">15.969</div>
<div class="t" style="left:567.72px;top:382px;font-size:9.9px;letter-spacing:-0.121px;color:#151515;-webkit-text-stroke:0.05px #151515;">12.478</div>
<div class="t" style="left:655.58px;top:382px;font-size:9.9px;letter-spacing:-0.162px;color:#151515;-webkit-text-stroke:0.05px #151515;">689</div>
<div class="t" style="left:716.96px;top:382px;font-size:9.9px;letter-spacing:-0.121px;color:#151515;-webkit-text-stroke:0.05px #151515;">29.136</div>
<div class="t" style="left:804.91px;top:382px;font-size:9.9px;letter-spacing:-0.162px;color:#151515;-webkit-text-stroke:0.05px #151515;">269</div>
<div class="t" style="left:861.29px;top:382px;font-size:9.9px;letter-spacing:-0.119px;color:#151515;-webkit-text-stroke:0.05px #151515;">384.673</div>
<div class="t" style="left:936.21px;top:382px;font-size:9.9px;letter-spacing:-0.119px;color:#151515;-webkit-text-stroke:0.05px #151515;">458.742</div>
<div class="t" style="left:1021.82px;top:382px;font-size:9.9px;letter-spacing:-0.124px;color:#151515;-webkit-text-stroke:0.05px #151515;">4.296</div>
<div class="t" style="left:35.60px;top:393px;font-size:9.39px;letter-spacing:-0.284px;color:#262626;">P.A. Bolzano</div>
<div class="t" style="left:206.27px;top:394px;font-size:9.9px;letter-spacing:-0.162px;color:#151515;-webkit-text-stroke:0.05px #151515;">170</div>
<div class="t" style="left:286.64px;top:394px;font-size:9.9px;letter-spacing:-0.217px;color:#151515;-webkit-text-stroke:0.05px #151515;">19</div>
<div class="t" style="left:366.80px;top:394px;font-size:9.9px;letter-spacing:0.000px;color:#151515;-webkit-text-stroke:0.05px #151515;">0</div>
<div class="t" style="left:423.09px;top:394px;font-size:9.9px;letter-spacing:-0.124px;color:#151515;-webkit-text-stroke:0.05px #151515;">9.025</div>
<div class="t" style="left:497.76px;top:394px;font-size:9.9px;letter-spacing:-0.124px;color:#151515;-webkit-text-stroke:0.05px #151515;">9.214</div>
<div class="t" style="left:567.72px;top:394px;font-size:9.9px;letter-spacing:-0.121px;color:#151515;-webkit-text-stroke:0.05px #151515;">18.485</div>
<div class="t" style="left:655.58px;top:394px;font-size:9.9px;letter-spacing:-0.162px;color:#151515;-webkit-text-stroke:0.05px #151515;">699</div>
<div class="t" style="left:716.96px;top:394px;font-size:9.9px;letter-spacing:-0.121px;color:#151515;-webkit-text-stroke:0.05px #151515;">28.398</div>
<div class="t" style="left:804.91px;top:394px;font-size:9.9px;letter-spacing:-0.162px;color:#151515;-webkit-text-stroke:0.05px #151515;">131</div>
<div class="t" style="left:861.29px;top:394px;font-size:9.9px;letter-spacing:-0.119px;color:#151515;-webkit-text-stroke:0.05px #151515;">159.457</div>
<div class="t" style="left:936.21px;top:394px;font-size:9.9px;letter-spacing:-0.119px;color:#151515;-webkit-text-stroke:0.05px #151515;">350.170</div>
<div class="t" style="left:1021.82px;top:394px;font-size:9.9px;letter-spacing:-0.124px;color:#151515;-webkit-text-stroke:0.05px #151515;">2.259</div>
<div class="t" style="left:35.60px;top:407px;font-size:9.39px;letter-spacing:0.084px;color:#262626;">Umbria</div>
<div class="t" style="left:206.27px;top:408px;font-size:9.9px;letter-spacing:-0.162px;color:#151515;-webkit-text-stroke:0.05px #151515;">239</div>
<div class="t" style="left:286.64px;top:408px;font-size:9.9px;letter-spacing:-0.217px;color:#151515;-webkit-text-stroke:0.05px #151515;">40</div>
<div class="t" style="left:366.80px;top:408px;font-size:9.9px;letter-spacing:0.000px;color:#151515;-webkit-text-stroke:0.05px #151515;">1</div>
<div class="t" style="left:423.09px;top:408px;font-size:9.9px;letter-spacing:-0.124px;color:#151515;-webkit-text-stroke:0.05px #151515;">3.269</div>
<div class="t" style="left:497.76px;top:408px;font-size:9.9px;letter-spacing:-0.124px;color:#151515;-webkit-text-stroke:0.05px #151515;">3.548</div>
<div class="t" style="left:567.72px;top:408px;font-size:9.9px;letter-spacing:-0.121px;color:#151515;-webkit-text-stroke:0.05px #151515;">23.421</div>
<div class="t" style="left:655.58px;top:408px;font-size:9.9px;letter-spacing:-0.162px;color:#151515;-webkit-text-stroke:0.05px #151515;">584</div>
<div class="t" style="left:716.96px;top:408px;font-size:9.9px;letter-spacing:-0.121px;color:#151515;-webkit-text-stroke:0.05px #151515;">27.553</div>
<div class="t" style="left:804.91px;top:408px;font-size:9.9px;letter-spacing:-0.162px;color:#151515;-webkit-text-stroke:0.05px #151515;">157</div>
<div class="t" style="left:861.29px;top:408px;font-size:9.9px;letter-spacing:-0.119px;color:#151515;-webkit-text-stroke:0.05px #151515;">246.207</div>
<div class="t" style="left:936.21px;top:408px;font-size:9.9px;letter-spacing:-0.119px;color:#151515;-webkit-text-stroke:0.05px #151515;">484.909</div>
<div class="t" style="left:1021.82px;top:408px;font-size:9.9px;letter-spacing:-0.124px;color:#151515;-webkit-text-stroke:0.05px #151515;">3.565</div>
<div class="t" style="left:35.60px;top:420px;font-size:9.39px;letter-spacing:-0.206px;color:#262626;">Calabria</div>
<div class="t" style="left:206.27px;top:421px;font-size:9.9px;letter-spacing:-0.162px;color:#151515;-webkit-text-stroke:0.05px #151515;">297</div>
<div class="t" style="left:286.64px;top:421px;font-size:9.9px;letter-spacing:-0.217px;color:#151515;-webkit-text-stroke:0.05px #151515;">19</div>
<div class="t" style="left:366.80px;top:421px;font-size:9.9px;letter-spacing:0.000px;color:#151515;-webkit-text-stroke:0.05px #151515;">3</div>
<div class="t" style="left:423.09px;top:421px;font-size:9.9px;letter-spacing:-0.124px;color:#151515;-webkit-text-stroke:0.05px #151515;">7.926</div>
<div class="t" style="left:497.76px;top:421px;font-size:9.9px;letter-spacing:-0.124px;color:#151515;-webkit-text-stroke:0.05px #151515;">8.242</div>
<div class="t" style="left:567.72px;top:421px;font-size:9.9px;letter-spacing:-0.121px;color:#151515;-webkit-text-stroke:0.05px #151515;">13.099</div>
<div class="t" style="left:655.58px;top:421px;font-size:9.9px;letter-spacing:-0.162px;color:#151515;-webkit-text-stroke:0.05px #151515;">436</div>
<div class="t" style="left:716.96px;top:421px;font-size:9.9px;letter-spacing:-0.121px;color:#151515;-webkit-text-stroke:0.05px #151515;">21.777</div>
<div class="t" style="left:804.91px;top:421px;font-size:9.9px;letter-spacing:-0.162px;color:#151515;-webkit-text-stroke:0.05px #151515;">284</div>
<div class="t" style="left:861.29px;top:421px;font-size:9.9px;letter-spacing:-0.119px;color:#151515;-webkit-text-stroke:0.05px #151515;">405.918</div>
<div class="t" style="left:936.21px;top:421px;font-size:9.9px;letter-spacing:-0.119px;color:#151515;-webkit-text-stroke:0.05px #151515;">422.145</div>
<div class="t" style="left:1021.82px;top:421px;font-size:9.9px;letter-spacing:-0.124px;color:#151515;-webkit-text-stroke:0.05px #151515;">3.505</div>
<div class="t" style="left:35.60px;top:433px;font-size:9.39px;letter-spacing:-0.174px;color:#262626;">P.A. Trento</div>
<div class="t" style="left:206.27px;top:434px;font-size:9.9px;letter-spacing:-0.162px;color:#151515;-webkit-text-stroke:0.05px #151515;">346</div>
<div class="t" style="left:286.64px;top:434px;font-size:9.9px;letter-spacing:-0.217px;color:#151515;-webkit-text-stroke:0.05px #151515;">47</div>
<div class="t" style="left:366.80px;top:434px;font-size:9.9px;letter-spacing:0.000px;color:#151515;-webkit-text-stroke:0.05px #151515;">3</div>
<div class="t" style="left:423.09px;top:434px;font-size:9.9px;letter-spacing:-0.124px;color:#151515;-webkit-text-stroke:0.05px #151515;">1.273</div>
<div class="t" style="left:497.76px;top:434px;font-size:9.9px;letter-spacing:-0.124px;color:#151515;-webkit-text-stroke:0.05px #151515;">1.666</div>
<div class="t" style="left:567.72px;top:434px;font-size:9.9px;letter-spacing:-0.121px;color:#151515;-webkit-text-stroke:0.05px #151515;">17.903</div>
<div class="t" style="left:655.58px;top:434px;font-size:9.9px;letter-spacing:-0.162px;color:#151515;-webkit-text-stroke:0.05px #151515;">878</div>
<div class="t" style="left:716.96px;top:434px;font-size:9.9px;letter-spacing:-0.121px;color:#151515;-webkit-text-stroke:0.05px #151515;">20.447</div>
<div class="t" style="left:804.91px;top:434px;font-size:9.9px;letter-spacing:-0.162px;color:#151515;-webkit-text-stroke:0.05px #151515;">157</div>
<div class="t" style="left:861.29px;top:434px;font-size:9.9px;letter-spacing:-0.119px;color:#151515;-webkit-text-stroke:0.05px #151515;">148.970</div>
<div class="t" style="left:936.21px;top:434px;font-size:9.9px;letter-spacing:-0.119px;color:#151515;-webkit-text-stroke:0.05px #151515;">435.028</div>
<div class="t" style="left:1021.82px;top:434px;font-size:9.9px;letter-spacing:-0.124px;color:#151515;-webkit-text-stroke:0.05px #151515;">3.328</div>
<div class="t" style="left:35.60px;top:446px;font-size:9.39px;letter-spacing:-0.193px;color:#262626;">Basilicata</div>
<div class="t" style="left:211.67px;top:447px;font-size:9.9px;letter-spacing:-0.217px;color:#151515;-webkit-text-stroke:0.05px #151515;">91</div>
<div class="t" style="left:292.04px;top:447px;font-size:9.9px;letter-spacing:0.000px;color:#151515;-webkit-text-stroke:0.05px #151515;">9</div>
<div class="t" style="left:366.80px;top:447px;font-size:9.9px;letter-spacing:0.000px;color:#151515;-webkit-text-stroke:0.05px #151515;">1</div>
<div class="t" style="left:423.09px;top:447px;font-size:9.9px;letter-spacing:-0.124px;color:#151515;-webkit-text-stroke:0.05px #151515;">5.772</div>
<div class="t" style="left:497.76px;top:447px;font-size:9.9px;letter-spacing:-0.124px;color:#151515;-webkit-text-stroke:0.05px #151515;">5.872</div>
<div class="t" style="left:573.12px;top:447px;font-size:9.9px;letter-spacing:-0.124px;color:#151515;-webkit-text-stroke:0.05px #151515;">4.120</div>
<div class="t" style="left:655.58px;top:447px;font-size:9.9px;letter-spacing:-0.162px;color:#151515;-webkit-text-stroke:0.05px #151515;">231</div>
<div class="t" style="left:716.96px;top:447px;font-size:9.9px;letter-spacing:-0.121px;color:#151515;-webkit-text-stroke:0.05px #151515;">10.223</div>
<div class="t" style="left:810.31px;top:447px;font-size:9.9px;letter-spacing:-0.217px;color:#151515;-webkit-text-stroke:0.05px #151515;">99</div>
<div class="t" style="left:861.29px;top:447px;font-size:9.9px;letter-spacing:0.126px;color:#151515;-webkit-text-stroke:0.05px #151515;">115.118</div>
<div class="t" style="left:936.21px;top:447px;font-size:9.9px;letter-spacing:-0.119px;color:#151515;-webkit-text-stroke:0.05px #151515;">177.942</div>
<div class="t" style="left:1021.82px;top:447px;font-size:9.9px;letter-spacing:-0.124px;color:#151515;-webkit-text-stroke:0.05px #151515;">1.417</div>
<div class="t" style="left:35.60px;top:459px;font-size:9.39px;letter-spacing:-0.081px;color:#262626;">Valle d&#x27;Aosta</div>
<div class="t" style="left:211.67px;top:460px;font-size:9.9px;letter-spacing:-0.217px;color:#151515;-webkit-text-stroke:0.05px #151515;">84</div>
<div class="t" style="left:292.04px;top:460px;font-size:9.9px;letter-spacing:0.000px;color:#151515;-webkit-text-stroke:0.05px #151515;">4</div>
<div class="t" style="left:366.80px;top:460px;font-size:9.9px;letter-spacing:0.000px;color:#151515;-webkit-text-stroke:0.05px #151515;">0</div>
<div class="t" style="left:431.17px;top:460px;font-size:9.9px;letter-spacing:-0.162px;color:#151515;-webkit-text-stroke:0.05px #151515;">342</div>
<div class="t" style="left:505.84px;top:460px;font-size:9.9px;letter-spacing:-0.162px;color:#151515;-webkit-text-stroke:0.05px #151515;">430</div>
<div class="t" style="left:573.12px;top:460px;font-size:9.9px;letter-spacing:-0.124px;color:#151515;-webkit-text-stroke:0.05px #151515;">6.284</div>
<div class="t" style="left:655.58px;top:460px;font-size:9.9px;letter-spacing:-0.162px;color:#151515;-webkit-text-stroke:0.05px #151515;">370</div>
<div class="t" style="left:722.36px;top:460px;font-size:9.9px;letter-spacing:-0.124px;color:#151515;-webkit-text-stroke:0.05px #151515;">7.084</div>
<div class="t" style="left:810.31px;top:460px;font-size:9.9px;letter-spacing:0.518px;color:#151515;-webkit-text-stroke:0.05px #151515;">11</div>
<div class="t" style="left:866.69px;top:460px;font-size:9.9px;letter-spacing:-0.121px;color:#151515;-webkit-text-stroke:0.05px #151515;">36.709</div>
<div class="t" style="left:941.61px;top:460px;font-size:9.9px;letter-spacing:-0.121px;color:#151515;-webkit-text-stroke:0.05px #151515;">60.760</div>
<div class="t" style="left:1029.91px;top:460px;font-size:9.9px;letter-spacing:-0.162px;color:#151515;-webkit-text-stroke:0.05px #151515;">223</div>
<div class="t" style="left:35.60px;top:472px;font-size:9.39px;letter-spacing:0.115px;color:#262626;">Molise</div>
<div class="t" style="left:211.67px;top:473px;font-size:9.9px;letter-spacing:-0.217px;color:#151515;-webkit-text-stroke:0.05px #151515;">53</div>
<div class="t" style="left:292.04px;top:473px;font-size:9.9px;letter-spacing:0.000px;color:#151515;-webkit-text-stroke:0.05px #151515;">7</div>
<div class="t" style="left:366.80px;top:473px;font-size:9.9px;letter-spacing:0.000px;color:#151515;-webkit-text-stroke:0.05px #151515;">0</div>
<div class="t" style="left:423.09px;top:473px;font-size:9.9px;letter-spacing:-0.124px;color:#151515;-webkit-text-stroke:0.05px #151515;">2.142</div>
<div class="t" style="left:497.76px;top:473px;font-size:9.9px;letter-spacing:-0.124px;color:#151515;-webkit-text-stroke:0.05px #151515;">2.202</div>
<div class="t" style="left:573.12px;top:473px;font-size:9.9px;letter-spacing:-0.124px;color:#151515;-webkit-text-stroke:0.05px #151515;">3.791</div>
<div class="t" style="left:655.58px;top:473px;font-size:9.9px;letter-spacing:-0.162px;color:#151515;-webkit-text-stroke:0.05px #151515;">177</div>
<div class="t" style="left:722.36px;top:473px;font-size:9.9px;letter-spacing:-0.124px;color:#151515;-webkit-text-stroke:0.05px #151515;">6.170</div>
<div class="t" style="left:810.31px;top:473px;font-size:9.9px;letter-spacing:-0.217px;color:#151515;-webkit-text-stroke:0.05px #151515;">27</div>
<div class="t" style="left:861.29px;top:473px;font-size:9.9px;letter-spacing:-0.119px;color:#151515;-webkit-text-stroke:0.05px #151515;">102.024</div>
<div class="t" style="left:936.21px;top:473px;font-size:9.9px;letter-spacing:0.126px;color:#151515;-webkit-text-stroke:0.05px #151515;">110.811</div>
<div class="t" style="left:1029.91px;top:473px;font-size:9.9px;letter-spacing:-0.162px;color:#151515;-webkit-text-stroke:0.05px #151515;">758</div>
<div class="t" style="left:75.10px;top:489px;font-size:8.14px;letter-spacing:-0.001px;color:#0a0a0a;font-weight:bold;transform:scaleY(1.124);transform-origin:0 10px;">TOTALE</div>
<div class="t" style="left:193.13px;top:489px;font-size:9.67px;letter-spacing:-0.089px;color:#0a0a0a;font-weight:bold;">24.546</div>
<div class="t" style="left:273.37px;top:489px;font-size:9.67px;letter-spacing:-0.084px;color:#0a0a0a;font-weight:bold;">2.624</div>
<div class="t" style="left:356.19px;top:489px;font-size:9.67px;letter-spacing:-0.161px;color:#0a0a0a;font-weight:bold;">216</div>
<div class="t" style="left:412.76px;top:489px;font-size:9.67px;letter-spacing:-0.092px;color:#0a0a0a;font-weight:bold;">571.646</div>
<div class="t" style="left:487.43px;top:489px;font-size:9.67px;letter-spacing:-0.092px;color:#0a0a0a;font-weight:bold;">598.816</div>
<div class="t" style="left:554.75px;top:489px;font-size:9.67px;letter-spacing:-0.071px;color:#032a12;font-weight:bold;">1.322.067</div>
<div class="t" style="left:642.44px;top:489px;font-size:9.67px;letter-spacing:-0.089px;color:#4a0000;font-weight:bold;">70.395</div>
<div class="t" style="left:703.98px;top:489px;font-size:9.67px;letter-spacing:-0.071px;color:#2a1f00;font-weight:bold;">1.991.278</div>
<div class="t" style="left:791.77px;top:489px;font-size:9.67px;letter-spacing:-0.089px;color:#2a1f00;font-weight:bold;">14.522</div>
<div class="t" style="left:848.45px;top:489px;font-size:9.67px;letter-spacing:-0.075px;color:#03283a;font-weight:bold;">14.453.521</div>
<div class="t" style="left:923.36px;top:489px;font-size:9.67px;letter-spacing:-0.075px;color:#0c1018;font-weight:bold;">25.558.583</div>
<div class="t" style="left:1011.50px;top:489px;font-size:9.67px;letter-spacing:-0.092px;color:#0a0a0a;font-weight:bold;">175.364</div>
<div class="t" style="left:35.70px;top:521px;font-size:9.29px;letter-spacing:0.189px;color:#333;">Note:</div>
<div class="t" style="left:35.70px;top:542px;font-size:7.25px;letter-spacing:-0.045px;color:#3c3c3c;">La Regione Campania comunica di non avere a disposizione al momento i dati sugli ingressi giornalieri nelle T.I .</div>
<div class="t" style="left:35.70px;top:551px;font-size:7.25px;letter-spacing:-0.050px;color:#000;">La Regione Emilia Romagna comunica che in seguito a verifica sui dati comunicati nei giorni passati sono stati eliminati 2 casi in quanto giudicati non casi COVID-19.</div>
<div class="t" style="left:35.70px;top:559px;font-size:7.25px;letter-spacing:0.025px;color:#3c3c3c;">La Regione Lazio comunica che per un errore di inserimento il numero totale di tamponi di ieri 22/12/2020 era 2590884 per un incremento di 12982 tamponi.</div>
<div class="t" style="left:35.70px;top:567px;font-size:7.25px;letter-spacing:-0.026px;color:#3c3c3c;">La Regione Friuli Venezia Giulia comunica che il totale dei casi positivi è stato rivisto sulla base delle indicazioni ministeriali.</div>
</body>
</html>
